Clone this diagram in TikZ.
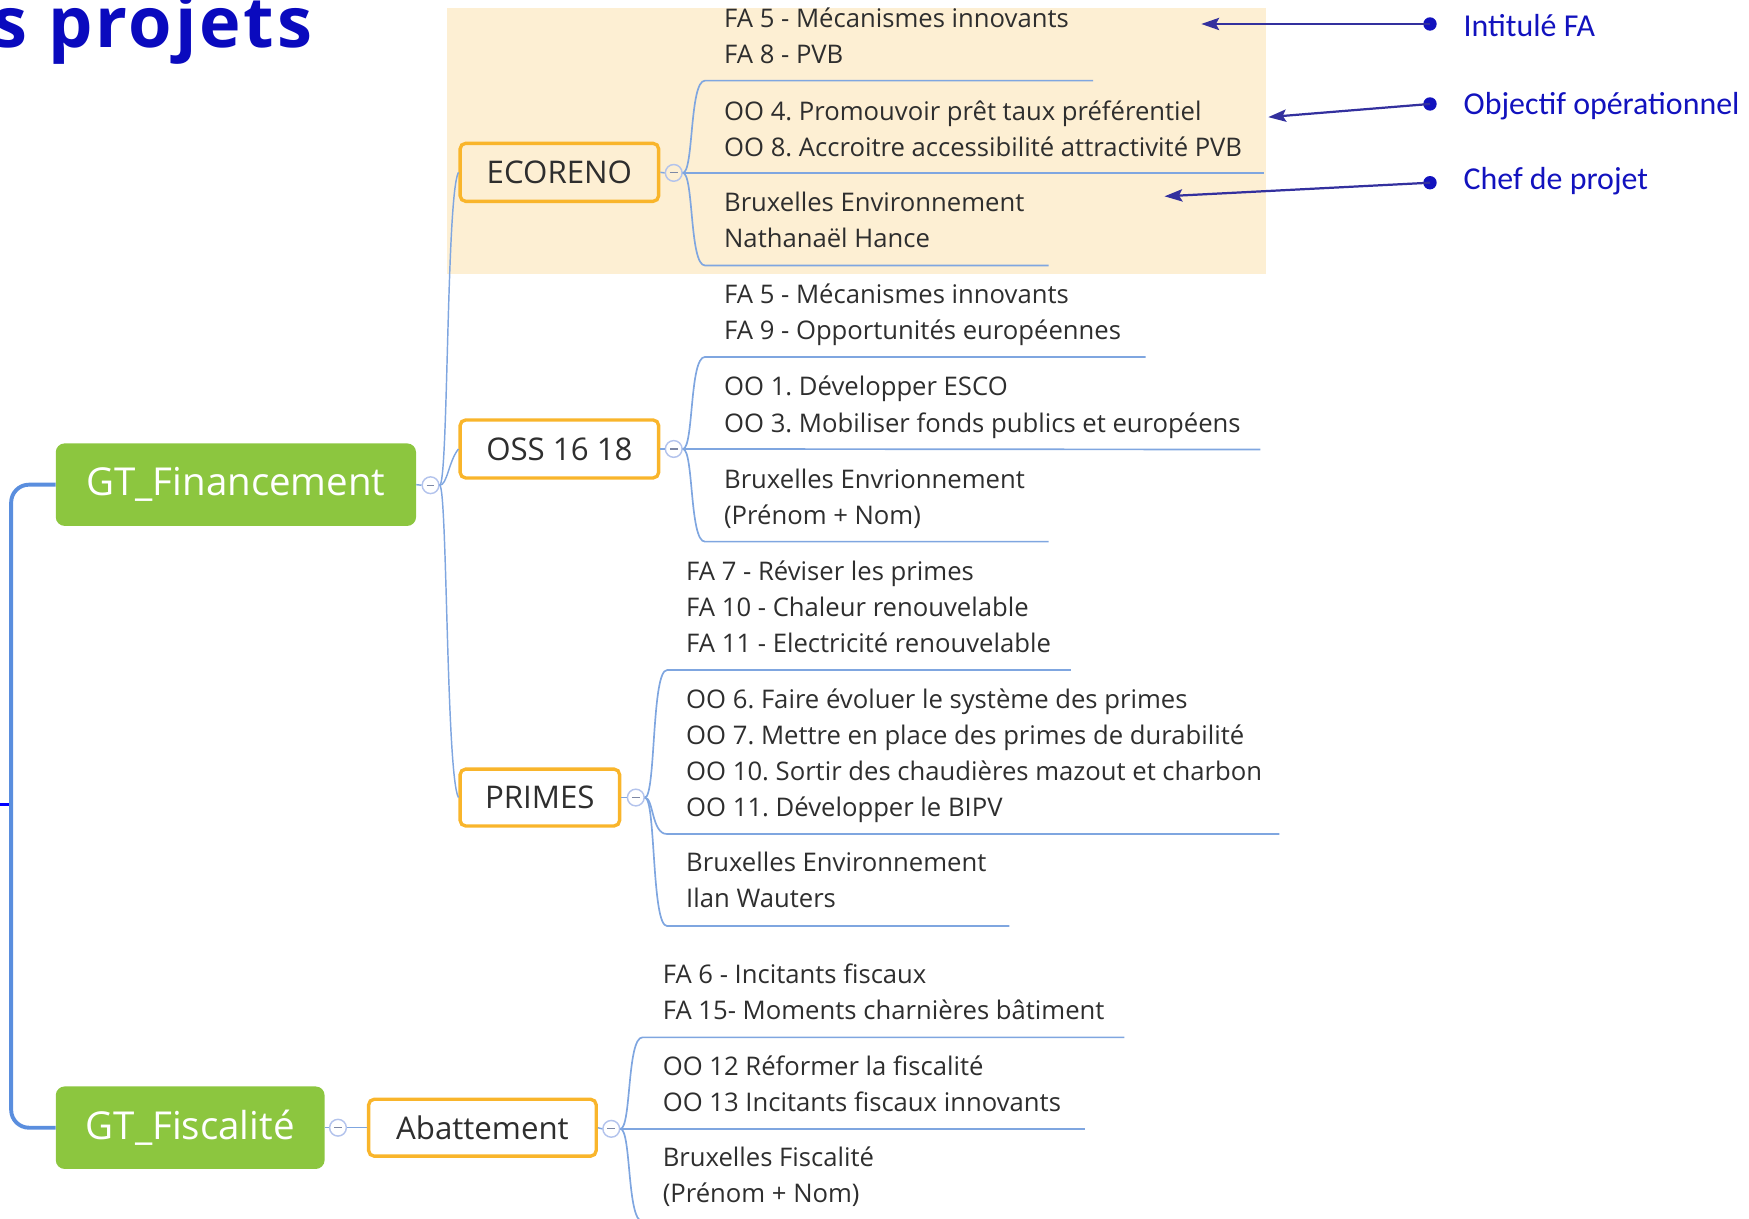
\documentclass[tikz,border=0pt]{standalone}
\usepackage{fontspec}
\setmainfont{Open Sans}
\newfontfamily\calibfont{Carlito}
\newfontfamily\titlefont{Open Sans}[LetterSpace=4]
\usetikzlibrary{arrows.meta}
\definecolor{gtgreen}{HTML}{8CC63F}
\definecolor{boxorange}{HTML}{F9B52B}
\definecolor{beigebg}{HTML}{FDEFD3}
\definecolor{connblue}{HTML}{7FA6E0}
\definecolor{thickblue}{HTML}{5A8EDE}
\definecolor{circblue}{HTML}{B3C3EC}
\definecolor{bodygray}{HTML}{2E2E2E}
\definecolor{labblue}{HTML}{1212BE}
\definecolor{arrblue}{HTML}{33309E}
\definecolor{titleblue}{HTML}{0A0ABE}
\newcommand\mmblock[4]{%
  \foreach \t [count=\i] in {#4} {\node[bodytxt] (#1-\i) at (#2,{#3+(\i-1)*32.3}) {\t};}}
\begin{document}
\frenchspacing
\begin{tikzpicture}[x=1pt,y=-1pt,
  gtbox/.style={rectangle, rounded corners=8pt, fill=gtgreen, text=white, inner sep=0pt,
    font=\fontsize{34.5}{40}\selectfont},
  prjbox/.style={rectangle, rounded corners=5pt, draw=boxorange, line width=3pt, text=bodygray,
    inner sep=0pt, font=\fontsize{28}{34}\selectfont},
  bodytxt/.style={anchor=base west, inner sep=0pt, text=bodygray, font=\frenchspacing\fontsize{23}{32.3}\selectfont},
  connline/.style={draw=connblue, line width=1.3pt},
  subline/.style={draw=connblue, line width=1.5pt},
  thickline/.style={draw=thickblue, line width=3.5pt},
  stubline/.style={draw=blue, line width=3pt},
  mmcircle/.style={circle, draw=circblue, line width=1.3pt, minimum size=15pt, inner sep=0pt,
    path picture={\draw[circblue!70!black, line width=1pt]
      ([xshift=-3.5pt]path picture bounding box.center) -- ([xshift=3.5pt]path picture bounding box.center);}},
  dotnode/.style={circle, fill=labblue, minimum size=12pt, inner sep=0pt},
  arrline/.style={draw=arrblue, line width=2pt, -{Stealth[length=16pt,width=11pt,inset=3pt]}},
  labeltxt/.style={anchor=base west, inner sep=0pt, text=labblue, font=\calibfont\fontsize{28.6}{34}\selectfont}
]
\useasboundingbox (0,0) rectangle (1568,1092);
\clip (0,0) rectangle (1568,1092);

% background highlight
\fill[beigebg] (401,7.5) rectangle (1135,246);

% title (cut at the left edge, as in the reference)
\node[anchor=base west, inner sep=0pt, text=titleblue, font=\titlefont\bfseries\fontsize{63}{72}\selectfont] (title) at (-7,43) {s projets};

% main nodes
\node[gtbox, minimum width=323pt, minimum height=74pt] (gtf) at (211.5,434.5) {GT\_Financement};
\node[gtbox, minimum width=241pt, minimum height=74pt] (gtfi) at (170.5,1011) {GT\_Fiscalité};

\node[prjbox, minimum width=178pt, minimum height=52pt] (eco) at (501.5,154.5) {ECORENO};
\node[prjbox, minimum width=178pt, minimum height=52pt] (oss) at (501.5,402.5) {OSS 16 18};
\node[prjbox, minimum width=143pt, minimum height=51pt] (pri) at (484,715) {PRIMES};
\node[prjbox, minimum width=204pt, minimum height=51pt] (aba) at (432.5,1011) {Abattement};

% collapse circles
\node[mmcircle] (cgf) at (386,435) {};
\node[mmcircle] (cgfi) at (303,1011) {};
\node[mmcircle] (ce) at (604,155) {};
\node[mmcircle] (co) at (604,402.5) {};
\node[mmcircle] (cp) at (570,715) {};
\node[mmcircle] (ca) at (548,1012) {};

% left thick connector and stub
\coordinate (stubL) at (0,721);
\coordinate (stubR) at (10,721);
\draw[stubline] (stubL) -- (stubR);
\draw[thickline, rounded corners=16pt] (gtf.west) -- (10,434.5) -- (10,1011) -- (gtfi.west);

% connections from GT_Financement
\draw[connline] (gtf.east) -- (cgf.west);
\draw[connline] (cgf.east) .. controls (402,435) and (400,175) .. (eco.west);
\draw[connline] (cgf.east) .. controls (401,435) and (402,414) .. (oss.west);
\draw[connline] (cgf.east) .. controls (401,435) and (400,695) .. (pri.west);
\draw[connline] (eco.east) -- (ce.west);
\draw[connline] (oss.east) -- (co.west);
\draw[connline] (pri.east) -- (cp.west);
\draw[connline] (gtfi.east) -- (cgfi.west);
\draw[connline] (cgfi.east) -- (aba.west);
\draw[connline] (aba.east) -- (ca.west);

% ECORENO branches
\draw[subline] (ce.east) .. controls (622,155) and (618,72.3) .. (632,72.3) -- (980,72.3);
\draw[subline] (ce.east) -- (1133,155);
\draw[subline] (ce.east) .. controls (622,155) and (618,238) .. (632,238) -- (940,238);
\mmblock{efa}{649}{24.5}{{FA 5 - Mécanismes innovants},{FA 8 - PVB}}
\mmblock{eoo}{649}{107.6}{{OO 4. Promouvoir prêt taux préférentiel},{OO 8. Accroitre accessibilité attractivité PVB}}
\mmblock{ech}{649}{190}{{Bruxelles Environnement},{Nathanaël Hance}}

% OSS branches
\draw[subline] (co.east) .. controls (622,402.5) and (618,320) .. (632,320) -- (1027,320);
\draw[subline] (co.east) -- (1130,403);
\draw[subline] (co.east) .. controls (622,402.5) and (618,485.6) .. (632,485.6) -- (940,485.6);
\mmblock{ofa}{649}{271.8}{{FA 5 - Mécanismes innovants},{FA 9 - Opportunités européennes}}
\mmblock{ooo}{649}{355}{{OO 1. Développer ESCO},{OO 3. Mobiliser fonds publics et européens}}
\mmblock{och}{649}{437.5}{{Bruxelles Envrionnement},{(Prénom + Nom)}}

% PRIMES branches
\draw[subline] (cp.east) .. controls (588,715) and (584,600.7) .. (598,600.7) -- (960,600.7);
\draw[subline] (cp.east) .. controls (586,715) and (584,747.7) .. (598,747.7) -- (1147,747.7);
\draw[subline] (cp.east) .. controls (588,715) and (584,830.2) .. (598,830.2) -- (905,830.2);
\mmblock{pfa}{615}{520.6}{{FA 7 - Réviser les primes},{FA 10 - Chaleur renouvelable},{FA 11 - Electricité renouvelable}}
\mmblock{poo}{615}{635}{{OO 6. Faire évoluer le système des primes},{OO 7. Mettre en place des primes de durabilité},{OO 10. Sortir des chaudières mazout et charbon},{OO 11. Développer le BIPV}}
\mmblock{pch}{615}{781.5}{{Bruxelles Environnement},{Ilan Wauters}}

% Abattement branches
\draw[subline] (ca.east) .. controls (566,1012) and (562,930) .. (576,930) -- (1008,930);
\draw[subline] (ca.east) -- (973,1012);
\draw[subline] (ca.east) .. controls (566,1012) and (562,1095) .. (576,1095) -- (900,1095);
\mmblock{afa}{594}{881.6}{{FA 6 - Incitants fiscaux},{FA 15- Moments charnières bâtiment}}
\mmblock{aoo}{594}{963.8}{{OO 12 Réformer la fiscalité},{OO 13 Incitants fiscaux innovants}}
\mmblock{ach}{594}{1046}{{Bruxelles Fiscalité},{(Prénom + Nom)}}

% legend
\node[dotnode] (d1) at (1282,21.5) {};
\node[dotnode] (d2) at (1282,93.2) {};
\node[dotnode] (d3) at (1282,163.8) {};
\coordinate (t1) at (1077,21.5);
\coordinate (t2) at (1137,105);
\coordinate (t3) at (1044,176);
\draw[arrline] (d1.center) -- (t1);
\draw[arrline] (d2.center) -- (t2);
\draw[arrline] (d3.center) -- (t3);
\node[labeltxt] (l1) at (1312,32.3) {Intitulé FA};
\node[labeltxt] (l2) at (1312,103) {Objectif opérationnel};
\node[labeltxt] (l3) at (1312,170.3) {Chef de projet};
\end{tikzpicture}
\end{document}
